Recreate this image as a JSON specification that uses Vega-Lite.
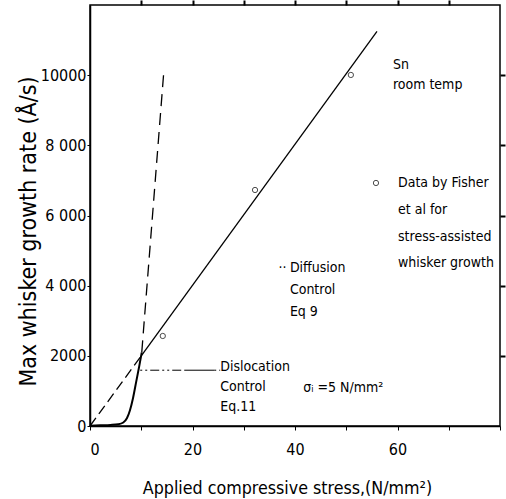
{
  "$schema": "https://vega.github.io/schema/vega-lite/v6.json",
  "width": 410,
  "height": 421,
  "autosize": {"type": "none"},
  "padding": {"left": 90, "top": 5, "right": 6, "bottom": 73},
  "background": "white",
  "config": {
    "view": {"stroke": "black", "strokeWidth": 1.5},
    "font": "DejaVu Sans Condensed",
    "axis": {"grid": false, "domainColor": "black", "tickColor": "black", "labelColor": "black", "titleColor": "black", "domainWidth": 1.5, "labelFont": "DejaVu Sans Condensed", "titleFont": "DejaVu Sans Condensed", "titleFontWeight": "normal"}
  },
  "datasets": {
    "lines": [
      {"series": "diff_solid", "stress": 10, "rate": 2000},
      {"series": "diff_solid", "stress": 56, "rate": 11250},
      {"series": "diff_dash", "stress": 0, "rate": 0},
      {"series": "diff_dash", "stress": 10, "rate": 2000},
      {"series": "disl_solid", "stress": 0, "rate": 10},
      {"series": "disl_solid", "stress": 2, "rate": 20},
      {"series": "disl_solid", "stress": 4, "rate": 30},
      {"series": "disl_solid", "stress": 5.5, "rate": 50},
      {"series": "disl_solid", "stress": 6.5, "rate": 100},
      {"series": "disl_solid", "stress": 7.2, "rate": 220},
      {"series": "disl_solid", "stress": 7.8, "rate": 450},
      {"series": "disl_solid", "stress": 8.4, "rate": 800},
      {"series": "disl_solid", "stress": 9, "rate": 1250},
      {"series": "disl_solid", "stress": 9.6, "rate": 1700},
      {"series": "disl_solid", "stress": 10.1, "rate": 2100},
      {"series": "disl_dash", "stress": 10.1, "rate": 2100},
      {"series": "disl_dash", "stress": 14.4, "rate": 10100},
      {"series": "dashdot", "stress": 9.8, "rate": 1590},
      {"series": "dashdot", "stress": 25.4, "rate": 1590}
    ],
    "points": [
      {"stress": 14.2, "rate": 2566},
      {"stress": 32.2, "rate": 6727},
      {"stress": 50.9, "rate": 10006},
      {"stress": 55.8, "rate": 6927}
    ],
    "labels": [
      {"stress": 59.1, "rate": 10290, "text": "Sn"},
      {"stress": 59.1, "rate": 9721, "text": "room temp"},
      {"stress": 60.1, "rate": 6927, "text": "Data by Fisher"},
      {"stress": 60.1, "rate": 6157, "text": "et al for"},
      {"stress": 60.1, "rate": 5388, "text": "stress-assisted"},
      {"stress": 60.1, "rate": 4647, "text": "whisker growth"},
      {"stress": 36.8, "rate": 4504, "text": "··"},
      {"stress": 39.0, "rate": 4504, "text": "Diffusion"},
      {"stress": 39.0, "rate": 3877, "text": "Control"},
      {"stress": 39.0, "rate": 3250, "text": "Eq 9"},
      {"stress": 25.4, "rate": 1682, "text": "Dislocation"},
      {"stress": 25.4, "rate": 1112, "text": "Control"},
      {"stress": 25.4, "rate": 542, "text": "Eq.11"},
      {"stress": 41.6, "rate": 1083, "text": "σᵢ =5 N/mm²"}
    ]
  },
  "resolve": {"scale": {"x": "independent", "y": "independent"}, "axis": {"x": "independent", "y": "independent"}},
  "layer": [
    {
      "layer": [
        {
          "data": {"name": "lines"},
          "transform": [{"filter": "datum.series == 'diff_solid'"}],
          "mark": {"type": "line", "color": "black", "strokeWidth": 1.3},
          "encoding": {
            "x": {"field": "stress", "type": "quantitative", "scale": {"domain": [0, 80], "nice": false},
              "axis": {"orient": "bottom", "title": "Applied compressive stress,(N/mm²)", "values": [0, 10, 20, 30, 40, 50, 60, 70, 80],
                "labelExpr": "datum.value % 20 == 0 && datum.value < 80 ? datum.label : ''", "labelFontSize": 16, "titleFontSize": 17.7, "tickSize": 4, "labelPadding": 11, "titlePadding": 22, "titleX": 197}},
            "y": {"field": "rate", "type": "quantitative", "scale": {"domain": [0, 12000], "nice": false},
              "axis": {"orient": "left", "title": "Max whisker growth rate (Å/s)", "values": [0, 2000, 4000, 6000, 8000, 10000],
                "labelExpr": "datum.value == 4000 ? '4 000' : datum.value == 6000 ? '6 000' : datum.value == 8000 ? '8 000' : format(datum.value, 'd')",
                "labelFontSize": 16, "titleFontSize": 23, "tickSize": 3, "labelPadding": 1, "titleX": -50, "titleY": 226}}
          }
        },
        {
          "data": {"name": "lines"},
          "transform": [{"filter": "datum.series == 'disl_solid'"}],
          "mark": {"type": "line", "color": "black", "strokeWidth": 2, "interpolate": "monotone"},
          "encoding": {
            "x": {"field": "stress", "type": "quantitative"},
            "y": {"field": "rate", "type": "quantitative"}
          }
        },
        {
          "data": {"name": "lines"},
          "transform": [{"filter": "datum.series == 'disl_dash'"}],
          "mark": {"type": "line", "color": "black", "strokeWidth": 1.3, "strokeDash": [12, 7]},
          "encoding": {
            "x": {"field": "stress", "type": "quantitative"},
            "y": {"field": "rate", "type": "quantitative"}
          }
        },
        {
          "data": {"name": "lines"},
          "transform": [{"filter": "datum.series == 'dashdot'"}],
          "mark": {"type": "line", "color": "black", "strokeWidth": 1, "strokeDash": [2, 3, 2, 3, 9, 3, 2, 3, 2, 3, 9, 3, 30, 0]},
          "encoding": {
            "x": {"field": "stress", "type": "quantitative"},
            "y": {"field": "rate", "type": "quantitative"}
          }
        },
        {
          "data": {"name": "points"},
          "mark": {"type": "point", "shape": "circle", "filled": false, "color": "black", "size": 28, "strokeWidth": 1},
          "encoding": {
            "x": {"field": "stress", "type": "quantitative"},
            "y": {"field": "rate", "type": "quantitative"}
          }
        },
        {
          "data": {"name": "labels"},
          "mark": {"type": "text", "align": "left", "baseline": "middle", "fontSize": 14, "color": "black", "font": "DejaVu Sans Condensed"},
          "encoding": {
            "x": {"field": "stress", "type": "quantitative"},
            "y": {"field": "rate", "type": "quantitative"},
            "text": {"field": "text"}
          }
        }
      ]
    },
    {
      "data": {"name": "lines"},
      "transform": [{"filter": "datum.series == 'diff_dash'"}],
      "mark": {"type": "line", "color": "black", "strokeWidth": 1.3, "strokeDash": [10, 5]},
      "encoding": {
        "x": {"field": "stress", "type": "quantitative", "scale": {"domain": [0, 80], "nice": false},
          "axis": {"orient": "top", "title": null, "labels": false, "values": [10, 20, 30, 40, 50, 60, 70], "tickSize": 5, "tickWidth": 2, "domain": false}},
        "y": {"field": "rate", "type": "quantitative", "scale": {"domain": [0, 12000], "nice": false},
          "axis": {"orient": "right", "title": null, "labels": false, "values": [2000, 4000, 6000, 8000, 10000], "tickSize": 5, "tickWidth": 2, "domain": false}}
      }
    }
  ]
}
